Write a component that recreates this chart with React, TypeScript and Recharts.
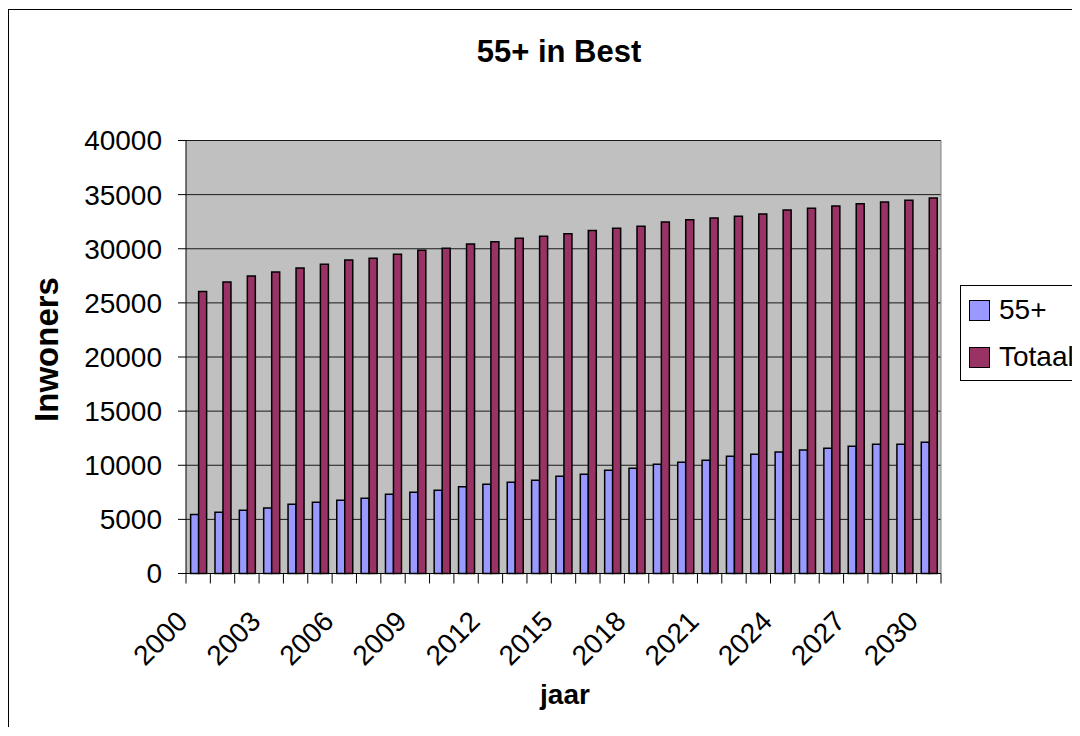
import { BarChart, Bar, XAxis, YAxis, CartesianGrid, Legend, Customized } from 'recharts'

const years = [
  '2000', '2001', '2002', '2003', '2004', '2005', '2006', '2007', '2008', '2009', '2010',
  '2011', '2012', '2013', '2014', '2015', '2016', '2017', '2018', '2019', '2020',
  '2021', '2022', '2023', '2024', '2025', '2026', '2027', '2028', '2029', '2030',
]
const seniors = [
  5450, 5650, 5840, 6050, 6390, 6580, 6770, 6950, 7320, 7500, 7690,
  8020, 8240, 8430, 8610, 8980, 9170, 9540, 9720, 10090, 10280,
  10460, 10830, 11020, 11230, 11410, 11570, 11760, 11940, 11940, 12130,
]
const total = [
  26040, 26930, 27490, 27860, 28230, 28570, 28970, 29130, 29500, 29870, 30050,
  30450, 30640, 30980, 31160, 31380, 31690, 31900, 32090, 32460, 32670,
  32830, 33010, 33200, 33570, 33750, 33940, 34150, 34330, 34490, 34680,
]
const yTicks = [0, 5000, 10000, 15000, 20000, 25000, 30000, 35000, 40000]

const data = years.map((year, i) => ({ year, seniors: seniors[i], total: total[i] }))

const FONT = '"Liberation Sans", Arial, sans-serif'
const W = 1072
const H = 719
const PLOT_LEFT = 178
const PLOT_TOP = 132.5
const PLOT_W = 755
const PLOT_H = 433
const BAND = PLOT_W / years.length

// Excel-style category axis: tick marks sit between categories, every third year labelled
const YearTick = (props: any) => {
  const { x, y, payload, index } = props
  const half = BAND / 2
  const lx = x - 9
  const ly = y + 49.5
  return (
    <g>
      <line x1={x - half} x2={x - half} y1={y} y2={y + 10} stroke="#000" />
      {index === years.length - 1 && <line x1={x + half} x2={x + half} y1={y} y2={y + 10} stroke="#000" />}
      {index % 3 === 0 && (
        <text x={lx} y={ly} textAnchor="end" transform={`rotate(-45, ${lx}, ${ly})`}
          fontSize={28} fontFamily={FONT} fill="#000">
          {payload.value}
        </text>
      )}
    </g>
  )
}

const Titles = () => (
  <g fontFamily={FONT} fill="#000" fontWeight="bold">
    <text x={551} y={54} textAnchor="middle" fontSize={31}>55+ in Best</text>
    <text x={50} y={341.5} textAnchor="middle" fontSize={33} transform="rotate(-90, 50, 341.5)">Inwoners</text>
    <text x={557} y={696} textAnchor="middle" fontSize={28}>jaar</text>
    <line x1={PLOT_LEFT + PLOT_W} x2={PLOT_LEFT + PLOT_W} y1={PLOT_TOP} y2={PLOT_TOP + PLOT_H} stroke="#808080" />
  </g>
)

const LegendBox = ({ payload }: any) => (
  <div style={{ position: 'relative', width: 140, height: 96, border: '1px solid #000', boxSizing: 'border-box', background: '#fff', fontFamily: FONT, fontSize: 28 }}>
    {(payload || []).map((entry: any, i: number) => (
      <div key={entry.value}>
        <div style={{ position: 'absolute', left: 8, top: 14 + i * 47, width: 21, height: 21, background: entry.color, border: '1.5px solid #000', boxSizing: 'border-box' }} />
        <div style={{ position: 'absolute', left: 38, top: 10 + i * 47, lineHeight: '28px', whiteSpace: 'nowrap', color: '#000' }}>{entry.value}</div>
      </div>
    ))}
  </div>
)

export default function App() {
  return (
    <div style={{ position: 'relative', top: 1, width: W, height: H, overflow: 'hidden', borderTop: '1px solid #000', borderLeft: '1px solid #000', borderBottom: '1px solid #000', boxSizing: 'border-box', background: '#fff' }}>
      <div style={{ position: 'absolute', left: -1, top: -2 }}>
        <BarChart width={W} height={H} data={data} barCategoryGap="19%" barGap={0}
          margin={{ top: PLOT_TOP, right: W - PLOT_LEFT - PLOT_W, bottom: 0, left: 0 }}>
          <CartesianGrid vertical={false} fill="#C0C0C0" stroke="#1a1a1a" />
          <XAxis dataKey="year" interval={0} height={H - PLOT_TOP - PLOT_H} tickLine={false} tickSize={0} tickMargin={0}
            tick={<YearTick />} axisLine={{ stroke: '#000' }} />
          <YAxis domain={[0, 40000]} ticks={yTicks} interval={0} width={PLOT_LEFT} tickSize={8} tickMargin={16}
            axisLine={{ stroke: '#000' }} tickLine={{ stroke: '#000' }}
            tick={{ fontSize: 28, fontFamily: FONT, fill: '#000' }} />
          <Legend layout="vertical" align="center" verticalAlign="middle" content={<LegendBox />}
            wrapperStyle={{ left: 952, top: 277, width: 140, height: 96 }} />
          <Bar dataKey="seniors" name="55+" fill="#9999FF" stroke="#000" strokeWidth={1.5} isAnimationActive={false} />
          <Bar dataKey="total" name="Totaal" fill="#993366" stroke="#000" strokeWidth={1.5} isAnimationActive={false} />
          <Customized component={<Titles />} />
        </BarChart>
      </div>
    </div>
  )
}
